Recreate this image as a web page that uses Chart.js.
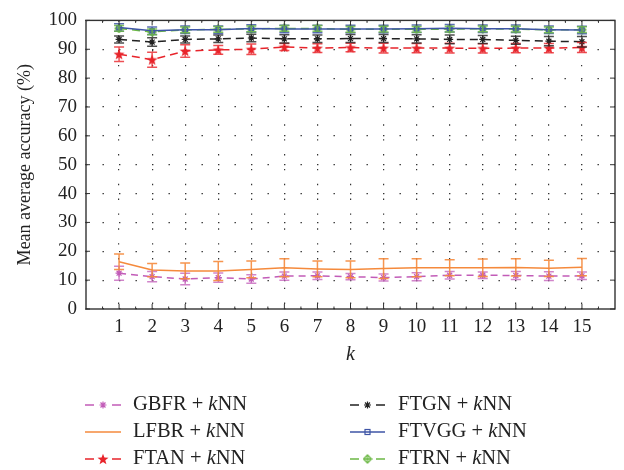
<!DOCTYPE html>
<html><head><meta charset="utf-8">
<script src="https://cdn.jsdelivr.net/npm/chart.js@4.4.1/dist/chart.umd.min.js"></script>
<style>html,body{margin:0;padding:0;background:#fff}#wrap{width:624px;height:470px}</style>
</head><body><div id="wrap"><canvas id="c" width="624" height="470"></canvas></div>
<script>
const kValues = [1,2,3,4,5,6,7,8,9,10,11,12,13,14,15];
const yTicks = [0,10,20,30,40,50,60,70,80,90,100];
const gbfr = [12.4,11.2,10.4,10.9,10.4,11.4,11.5,11.2,10.9,11.2,11.7,11.7,11.6,11.4,11.5];
const gbfrErr = [2.4,1.8,2.0,1.6,1.5,1.4,1.3,1.1,1.2,1.4,1.3,1.1,1.4,1.5,1.3];
const lfbr = [16.4,13.5,13.2,13.2,13.7,14.3,13.9,13.7,14.0,14.3,14.3,14.3,14.4,14.1,14.5];
const lfbrErr = [2.7,2.3,2.7,3.3,2.9,3.1,2.7,2.9,3.4,3.1,2.8,3.0,3.0,2.8,3.0];
const ftan = [88.3,86.4,89.4,89.8,90.0,90.8,90.4,90.6,90.4,90.4,90.4,90.3,90.4,90.4,90.6];
const ftanErr = [2.5,2.6,2.2,1.5,1.8,1.2,1.5,1.5,1.7,1.6,1.7,1.6,1.6,1.6,1.7];
const ftgn = [93.4,92.5,93.4,93.6,93.9,93.6,93.6,93.7,93.7,93.6,93.4,93.4,93.1,92.8,92.6];
const ftgnErr = [1.2,1.5,1.2,1.3,1.3,1.4,1.3,1.4,1.4,1.4,1.5,1.4,1.4,1.6,1.8];
const ftvgg = [97.5,96.4,96.8,96.8,97.2,97.0,97.0,97.0,97.0,97.1,97.3,97.1,97.1,96.8,96.7];
const ftvggErr = [1.3,1.3,1.3,1.3,1.3,1.3,1.3,1.3,1.3,1.3,1.3,1.3,1.3,1.3,1.3];
const ftrn = [97.2,96.0,96.7,96.9,97.1,97.2,97.2,96.9,97.0,96.9,97.0,97.1,97.0,96.7,96.8];
const ftrnErr = [1.0,1.0,1.0,1.0,1.0,1.0,1.0,1.0,1.0,1.0,1.0,1.0,1.0,1.0,1.0];
const seriesNames = ['GBFR','LFBR','FTAN','FTGN','FTVGG','FTRN'];

const SERIF = '"Liberation Serif", "DejaVu Serif", serif';
const C = {gbfr:'#c25cb8', lfbr:'#f58a3c', ftan:'#e8242b', ftgn:'#222222', ftvgg:'#3e55a6', ftrn:'#6cb845'};
const ERRC = {gbfr:'rgba(194,92,184,0.75)', lfbr:'rgba(245,138,60,0.9)', ftan:'rgba(232,36,43,0.8)', ftgn:'rgba(34,34,34,0.8)', ftvgg:'rgba(62,85,166,0.85)', ftrn:'rgba(108,184,69,0.85)'};

function starImg(color){
  const cv=document.createElement('canvas'); cv.width=12; cv.height=12;
  const g=cv.getContext('2d'); g.fillStyle=color; g.beginPath();
  for(let i=0;i<10;i++){const r=i%2?2.4:5.8; const a=-Math.PI/2+i*Math.PI/5; g.lineTo(6+r*Math.cos(a),6.5+r*Math.sin(a));}
  g.closePath(); g.fill(); return cv;
}
function diamondImg(color){
  const cv=document.createElement('canvas'); cv.width=10; cv.height=10;
  const g=cv.getContext('2d'); g.strokeStyle=color; g.lineWidth=1.3; g.beginPath();
  g.moveTo(5,1);g.lineTo(9,5);g.lineTo(5,9);g.lineTo(1,5);g.closePath();g.stroke();
  g.beginPath();g.moveTo(5,2);g.lineTo(5,8);g.moveTo(2,5);g.lineTo(8,5);g.stroke(); return cv;
}
const starRed = starImg(C.ftan);
const diaGreen = diamondImg(C.ftrn);

function pts(arr){ return kValues.map((k,i)=>({x:k,y:arr[i]})); }
function ds(label,arr,err,color,errColor,dash,ps,r){
  return {label, data:pts(arr), errors:err, errColor, borderColor:color, backgroundColor:color,
    borderWidth:1.5, borderDash:dash, pointStyle:ps, pointRadius:r, pointBorderWidth:1.2,
    pointBackgroundColor:color, pointBorderColor:color, tension:0, fill:false};
}
const datasets = [
  ds('GBFR + kNN', gbfr, gbfrErr, C.gbfr, ERRC.gbfr, [7,5], 'star', 3.5),
  ds('LFBR + kNN', lfbr, lfbrErr, C.lfbr, ERRC.lfbr, [], false, 0),
  ds('FTAN + kNN', ftan, ftanErr, C.ftan, ERRC.ftan, [8,5], starRed, 5),
  ds('FTGN + kNN', ftgn, ftgnErr, C.ftgn, ERRC.ftgn, [8,5], 'star', 3.5),
  ds('FTVGG + kNN', ftvgg, ftvggErr, C.ftvgg, ERRC.ftvgg, [], 'rect', 3),
  ds('FTRN + kNN', ftrn, ftrnErr, C.ftrn, ERRC.ftrn, [8,5], diaGreen, 5)
];
datasets[4].pointBackgroundColor='rgba(255,255,255,0)';

const errPlugin = {
  id:'errbars',
  afterDatasetsDraw(chart){
    const ctx=chart.ctx, xs=chart.scales.x, ys=chart.scales.y;
    chart.data.datasets.forEach(d=>{
      if(!d.errors) return;
      ctx.save(); ctx.strokeStyle=d.errColor; ctx.lineWidth=1.5; ctx.setLineDash([]);
      d.data.forEach((p,i)=>{
        const x=xs.getPixelForValue(p.x), y1=ys.getPixelForValue(p.y-d.errors[i]), y2=ys.getPixelForValue(p.y+d.errors[i]);
        ctx.beginPath(); ctx.moveTo(x,y1); ctx.lineTo(x,y2);
        ctx.moveTo(x-5,y1); ctx.lineTo(x+5,y1); ctx.moveTo(x-5,y2); ctx.lineTo(x+5,y2); ctx.stroke();
      });
      ctx.restore();
    });
  }
};

const framePlugin = {
  id:'frame',
  afterDraw(chart){
    const ctx=chart.ctx, a=chart.chartArea, xs=chart.scales.x, ys=chart.scales.y;
    ctx.save(); ctx.strokeStyle='#333'; ctx.lineWidth=1.4; ctx.setLineDash([]);
    ctx.strokeRect(a.left,a.top,a.right-a.left,a.bottom-a.top);
    ctx.lineWidth=1;
    for(let v=0.5; v<16; v+=0.5){
      const x=xs.getPixelForValue(v), L=(v%1===0)?5:2.5;
      ctx.beginPath(); ctx.moveTo(x,a.bottom); ctx.lineTo(x,a.bottom-L); ctx.moveTo(x,a.top); ctx.lineTo(x,a.top+L); ctx.stroke();
    }
    yTicks.forEach(v=>{
      const y=ys.getPixelForValue(v);
      ctx.beginPath(); ctx.moveTo(a.left-1,y); ctx.lineTo(a.left+4,y); ctx.moveTo(a.right,y); ctx.lineTo(a.right-5,y); ctx.stroke();
    });
    // axis titles
    ctx.fillStyle='#222'; ctx.textAlign='center'; ctx.textBaseline='middle';
    ctx.font='italic 20px '+SERIF; ctx.fillText('k',(a.left+a.right)/2,355);
    ctx.save(); ctx.translate(25,(a.top+a.bottom)/2); ctx.rotate(-Math.PI/2);
    ctx.font='18px '+SERIF; ctx.fillText('Mean average accuracy (%)',0,0); ctx.restore();
    // legend
    const cols=[[85,121,133],[350,385,398]];
    const rows=[405,432,459];
    const order=[[0,0,0],[1,0,1],[2,0,2],[3,1,0],[4,1,1],[5,1,2]];
    order.forEach(([di,c,r])=>{
      const d=chart.data.datasets[di]; const [x1,x2,tx]=cols[c]; const y=rows[r];
      ctx.save(); ctx.strokeStyle=d.borderColor; ctx.lineWidth=1.4; ctx.setLineDash([]);
      ctx.beginPath();
      if(d.borderDash.length){ ctx.moveTo(x1,y); ctx.lineTo(x1+9,y); ctx.moveTo(x2-9,y); ctx.lineTo(x2,y); }
      else { ctx.moveTo(x1,y); ctx.lineTo(x2,y); }
      ctx.stroke(); ctx.restore();
      const mx=(x1+x2)/2;
      ctx.save(); ctx.strokeStyle=d.borderColor; ctx.fillStyle=d.borderColor; ctx.lineWidth=1.2;
      if(d.pointStyle instanceof HTMLCanvasElement){ ctx.drawImage(d.pointStyle, mx-d.pointStyle.width/2, y-d.pointStyle.height/2); }
      else if(d.pointStyle==='star'){ Chart.helpers.drawPoint(ctx,{pointStyle:'star',radius:3.5,borderWidth:1.2},mx,y); }
      else if(d.pointStyle==='rect'){ ctx.strokeRect(mx-2.5,y-2.5,5,5); }
      ctx.restore();
      ctx.fillStyle='#222'; ctx.textAlign='left'; ctx.textBaseline='middle';
      let t=seriesNames[di]+' + '; ctx.font='20.5px '+SERIF; ctx.fillText(t,tx,y); let w=ctx.measureText(t).width;
      ctx.font='italic 20.5px '+SERIF; ctx.fillText('k',tx+w,y); w+=ctx.measureText('k').width;
      ctx.font='20.5px '+SERIF; ctx.fillText('NN',tx+w,y);
    });
    ctx.restore();
  }
};

new Chart(document.getElementById('c'), {
  type:'line',
  data:{datasets},
  plugins:[errPlugin, framePlugin],
  options:{
    responsive:false, animation:false,
    layout:{padding:{top:12,right:9,left:0,bottom:0}},
    plugins:{legend:{display:false}, tooltip:{enabled:false}},
    scales:{
      x:{type:'linear', min:0, max:16,
        afterFit(s){ s.height=161; },
        afterBuildTicks(s){ s.ticks=kValues.map(v=>({value:v})); },
        border:{display:false, dash:[1.4,13.45]},
        grid:{color:'#333', lineWidth:1.2, drawTicks:false, tickLength:0},
        ticks:{color:'#222', font:{family:SERIF, size:19}, padding:7, maxRotation:0, autoSkip:false}
      },
      y:{min:0, max:100,
        afterFit(s){ s.width=86; },
        afterBuildTicks(s){ s.ticks=yTicks.map(v=>({value:v})); },
        border:{display:false, dash:[1.4,15.1]},
        grid:{color:'#333', lineWidth:1.2, drawTicks:false, tickLength:0},
        ticks:{color:'#222', font:{family:SERIF, size:19}, padding:9}
      }
    }
  }
});
</script></body></html>
